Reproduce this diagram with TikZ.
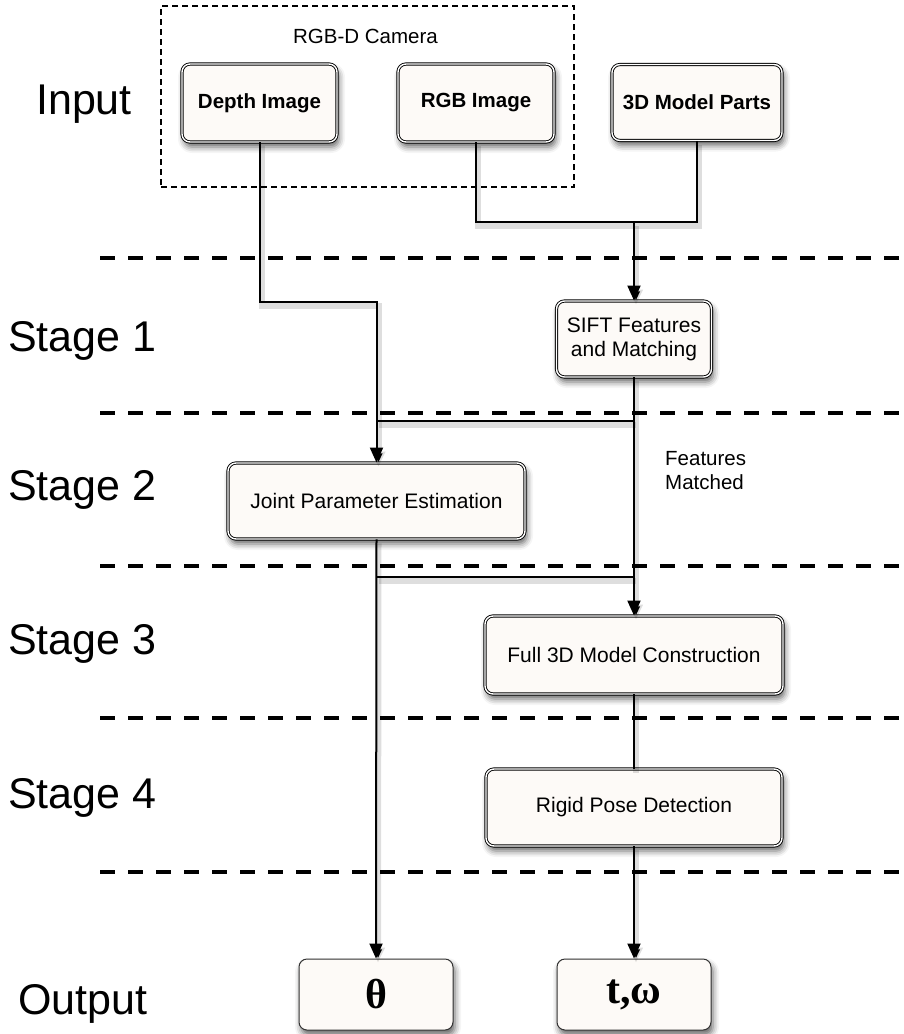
\documentclass[tikz,border=0pt]{standalone}
\usepackage{fontspec}
\setmainfont{Liberation Sans}
\newfontfamily\symserif{Liberation Serif}
\usetikzlibrary{arrows.meta,shadows.blur,calc}
\definecolor{boxfill}{RGB}{253,250,247}

\begin{document}
\begin{tikzpicture}[x=1pt,y=-1pt,
  softshadow/.style={blur shadow={shadow xshift=2pt,shadow yshift=-5pt,shadow blur radius=6pt,shadow opacity=60}},
  stepbox/.style={draw=black, line width=0.9pt, double=white, double distance=1.4pt,
    fill=boxfill, rounded corners=8pt, inner sep=0pt, align=center,
    font=\fontsize{21}{24}\selectfont, softshadow},
  inbox/.style={stepbox, font=\bfseries\fontsize{20.5}{24}\selectfont},
  outbox/.style={draw=black!80, line width=1pt, fill=boxfill, rounded corners=8pt,
    inner sep=0pt, minimum width=154pt, minimum height=71pt, softshadow},
  outtext/.style={font=\symserif\bfseries\fontsize{42}{46}\selectfont},
  stagelabel/.style={anchor=west, inner sep=0pt, font=\fontsize{43}{48}\selectfont},
  note/.style={inner sep=0pt, align=left, font=\fontsize{20.5}{24}\selectfont},
  conn/.style={line width=2pt, draw=black,
    preaction={draw=black, draw opacity=0.13, line width=6pt,
      transform canvas={shift={(2pt,-4pt)}}}},
  arr/.style={conn, -{Triangle[length=15pt,width=13pt]}},
  sep/.style={line width=3.2pt, dash pattern=on 15pt off 13pt},
  cambox/.style={draw=black, line width=1.1pt, dash pattern=on 6pt off 4pt, inner sep=0pt}
]
\useasboundingbox (0,0) rectangle (903,1034);

% stage separators
\foreach \yy in {258,413,566,718,872}
  \draw[sep] (100,\yy) -- (903,\yy);

% row labels
\node[stagelabel] (lin)  at (36,104)  {Input};
\node[stagelabel] (ls1)  at (8,341)   {Stage 1};
\node[stagelabel] (ls2)  at (8,490)   {Stage 2};
\node[stagelabel] (ls3)  at (8,644)   {Stage 3};
\node[stagelabel] (ls4)  at (8,798)   {Stage 4};
\node[stagelabel] (lout) at (18,1004) {Output};

% camera group
\node[cambox, minimum width=413pt, minimum height=181pt] (cam) at (367.5,96.5) {};
\node[note, align=center] (camlbl) at (365.5,36) {RGB-D Camera};

% input boxes
\node[inbox, minimum width=155pt, minimum height=78pt] (depth) at (259.5,103) {Depth Image};
\node[inbox, minimum width=156pt, minimum height=78pt] (rgb) at (476,103) {RGB Image};
\node[inbox, minimum width=170pt, minimum height=76pt] (parts) at (697,102.5) {3D Model Parts};

% processing stages
\node[stepbox, minimum width=155pt, minimum height=76pt] (sift) at (634,339) {SIFT Features\\and Matching};
\node[stepbox, minimum width=297pt, minimum height=76pt] (joint) at (376.5,501) {Joint Parameter Estimation};
\node[stepbox, minimum width=298pt, minimum height=78pt] (full) at (634,655) {Full 3D Model Construction};
\node[stepbox, minimum width=296pt, minimum height=77pt] (rigid) at (634,807.5) {Rigid Pose Detection};

% outputs
\node[outbox] (theta) at (376,994.5) {};
\node[outtext] (thetatxt) at (theta.center) {θ};
\node[outbox] (tw) at (634,994.5) {};
\node[outtext] (twtxt) at (tw.center) {t,ω};

\node[note, anchor=west] (fm) at (665,471) {Features\\Matched};

% connectors
\coordinate (d1) at (259.5,302);
\coordinate (m1) at (634,222);
\coordinate (s1) at (634,421);
\coordinate (j1) at (376.5,577);

\draw[arr] (depth.south) -- (d1) -| (joint.north);
\draw[conn] (rgb.south) |- (m1);
\draw[conn] (parts.south) |- (m1);
\draw[arr] (m1) -- (sift.north);
\draw[conn] (s1) -- (s1 -| joint.north);
\draw[arr] (sift.south) -- (full.north);
\draw[conn] (j1) -- (j1 -| full.north);
\draw[arr] (joint.south) -- (theta.north);
\draw[conn] (full.south) -- (rigid.north);
\draw[arr] (rigid.south) -- (tw.north);
\end{tikzpicture}
\end{document}
